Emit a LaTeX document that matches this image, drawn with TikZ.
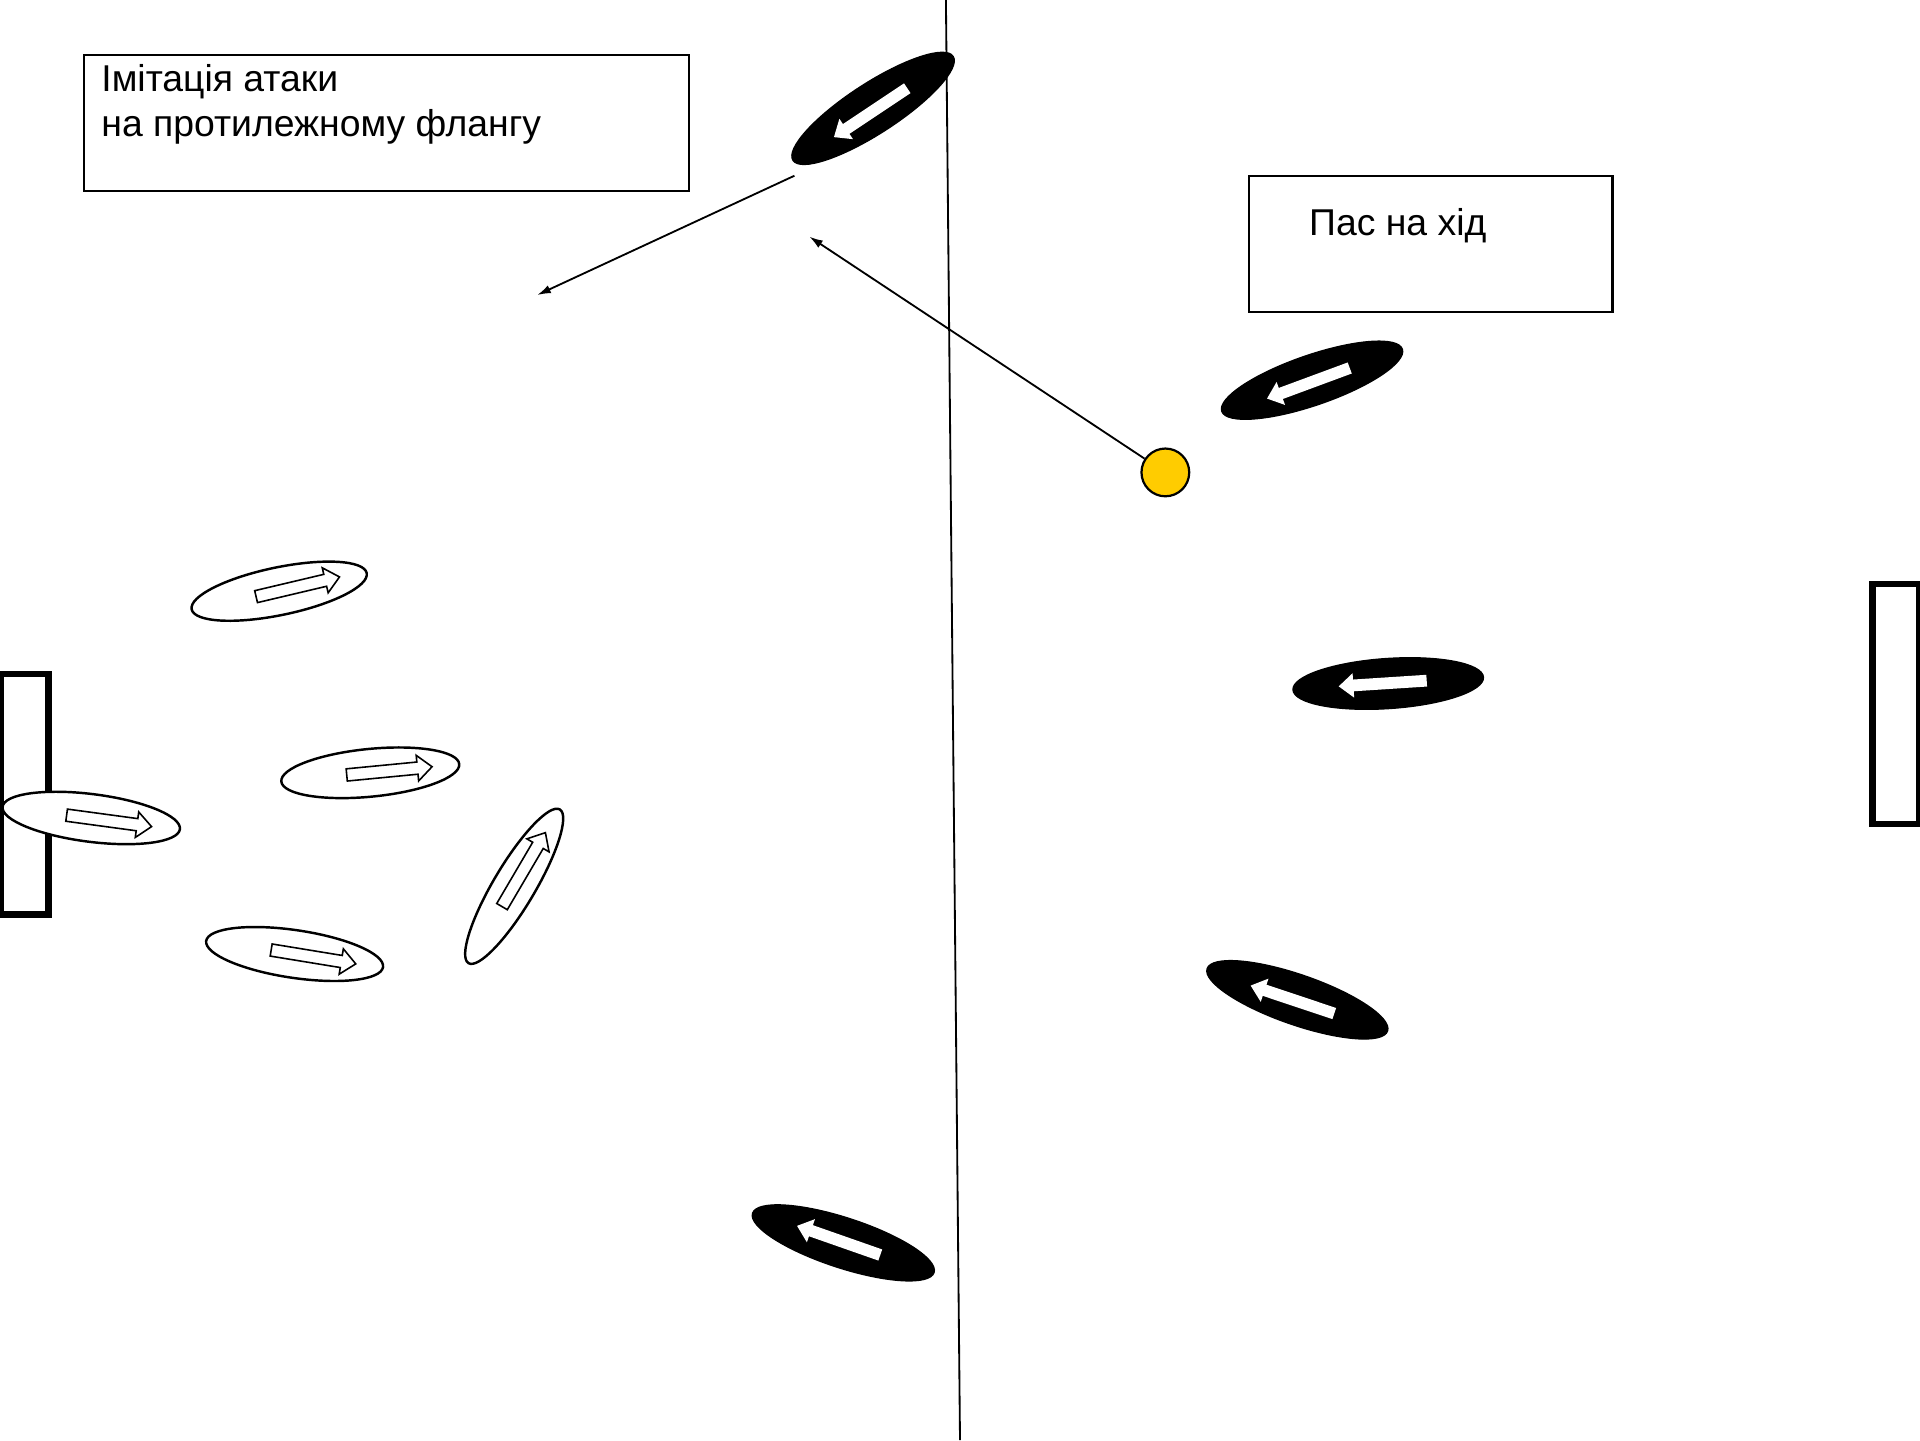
\documentclass[tikz,border=0pt]{standalone}
\usepackage{fontspec}
\setmainfont{Liberation Sans}
\usetikzlibrary{shapes.geometric,arrows.meta}
\definecolor{ballyellow}{RGB}{255,204,0}
\tikzset{
  opp/.style={ellipse, fill=black, draw=black, line width=1pt, minimum width=156pt, minimum height=41pt, inner sep=0pt},
  own/.style={ellipse, fill=white, draw=black, line width=2pt, minimum width=146pt, minimum height=39pt, inner sep=0pt},
  conn/.style={line width=1.5pt, -{Latex[length=11pt,width=7pt]}},
  txtbox/.style={draw=black, line width=1.8pt, rectangle, inner sep=0pt, anchor=north west},
  lbl/.style={anchor=base west, inner sep=0pt, font=\fontsize{30.5}{36}\selectfont},
  goalbox/.style={draw=black, line width=5.4pt},
  warrow/.pic={\draw[line width=1.3pt, fill=white, line join=miter]
     (-35,-5) -- (23,-5) -- (23,-10.5) -- (35,0) -- (23,10.5) -- (23,5) -- (-35,5) -- cycle;},
  barrow/.pic={\fill[white]
     (-36,-4.8) -- (24,-4.8) -- (24,-10) -- (36,0) -- (24,10) -- (24,4.8) -- (-36,4.8) -- cycle;}
}
\begin{document}
\begin{tikzpicture}[x=1pt,y=-1pt]
\useasboundingbox (0,0) rectangle (1568,1176);
\fill[white] (0,0) rectangle (1568,1176);

% halfway line
\coordinate (mtop) at (772.5,0);
\coordinate (mbot) at (784,1176);
\draw[line width=1.5pt] (mtop) -- (mbot);

% goals
\draw[goalbox] (0.5,550.3) rectangle (39.5,746.6);
\draw[goalbox] (1529,477) rectangle (1567.5,673);

% text boxes
\node[txtbox, minimum width=494pt, minimum height=111pt] (box1) at (67.6,44) {};
\node[lbl] (t1a) at (82.6,74.9) {Імітація атаки};
\node[lbl] (t1b) at (82.6,111.6) {на протилежному флангу};
\node[txtbox, minimum width=297pt, minimum height=111pt] (box2) at (1019,143) {};
\node[lbl] (t2) at (1069,192) {Пас на хід};

% opponents (black)
\node[opp, rotate=33]  (o1) at (713,88.5) {};
\pic[rotate=213.7] at (711,92) {barrow};
\node[opp, rotate=19]  (o2) at (1071.5,310.5) {};
\pic[rotate=200.3] at (1068.5,313) {barrow};
\node[opp, rotate=3.8] (o3) at (1133.7,558.2) {};
\pic[rotate=183.7] at (1129.2,558.2) {barrow};
\node[opp, rotate=-19.1] (o4) at (1059.5,816.5) {};
\pic[rotate=161.5] at (1055.5,816.3) {barrow};
\node[opp, rotate=-18.1] (o5) at (688.7,1015) {};
\pic[rotate=160.7] at (684.9,1013) {barrow};

% own players (white)
\node[own, rotate=11.7] (w1) at (228,482.8) {};
\pic[rotate=13.3] at (243.2,479.2) {warrow};
\node[own, rotate=5.6] (w2) at (302.4,631.1) {};
\pic[rotate=5.5] at (318,629.5) {warrow};
\node[own, rotate=-7.2] (w3) at (74.5,668) {};
\pic[rotate=-7.7] at (89.1,670.4) {warrow};
\node[own, rotate=59.3, minimum height=34pt] (w4) at (419.9,723.8) {};
\pic[rotate=59.6] at (427.7,710.2) {warrow};
\node[own, rotate=-8.4] (w5) at (240.6,779.1) {};
\pic[rotate=-9.3] at (256,781.5) {warrow};

% ball
\node[circle, fill=ballyellow, draw=black, line width=1.8pt, minimum size=39pt, inner sep=0pt] (ball) at (951.7,385.8) {};

% passes
\coordinate (p1) at (661,193.3);
\draw[conn] (ball) -- (p1);
\coordinate (s2) at (648.8,143.5);
\coordinate (p2) at (438.8,240.9);
\draw[conn] (s2) -- (p2);
\end{tikzpicture}
\end{document}
